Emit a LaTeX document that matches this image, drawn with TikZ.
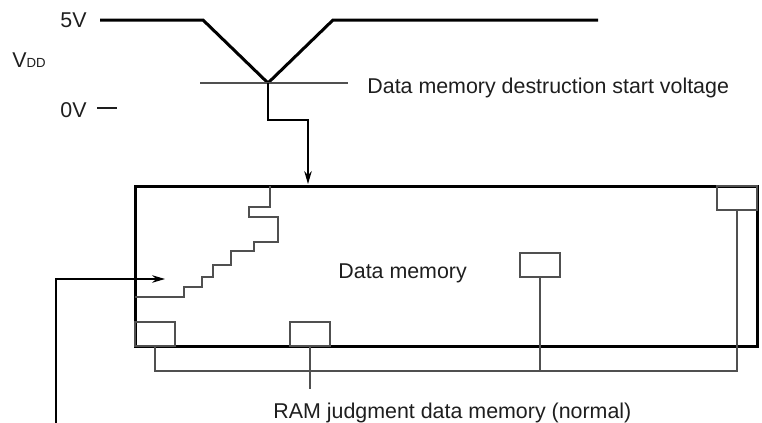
\documentclass[tikz,border=0pt]{standalone}
\usepackage{fontspec}
\setmainfont{Liberation Sans}
\usetikzlibrary{arrows.meta, positioning, calc}
\definecolor{wire}{RGB}{80,80,80}
\definecolor{ink}{RGB}{30,30,30}

\begin{document}
\begin{tikzpicture}[x=0.5pt, y=-0.5pt,
    lbl/.style={inner sep=0pt, anchor=base west, text=ink,
      font=\fontsize{10.7}{12}\selectfont},
    membox/.style={draw, line width=1.5pt, minimum width=311pt,
      minimum height=80pt, inner sep=0pt},
    cell/.style={draw=wire, line width=0.6pt, minimum width=20pt,
      minimum height=12pt, inner sep=0pt},
    volt/.style={line width=1.5pt, line join=miter},
    wireline/.style={wire, line width=0.6pt},
    arr/.style={-{Stealth[length=6.5pt, width=3.8pt]}, line width=0.6pt, black}]
  \useasboundingbox (0,0) rectangle (762,423);
  \node[lbl] (v5) at (60,27) {5V};
  \node[lbl] (vdd) at (12,68) {V{\fontsize{6.6}{8}\selectfont DD}};
  \node[lbl] (v0) at (60,117) {0V};
  \node[lbl] (thr) at (367,93) {Data memory destruction start voltage};
  \node[membox] (mem) at (446,266) {};
  \node[lbl] (dm) at (338,278) {Data memory};
  \node[lbl] (ram) at (273,418) {RAM judgment data memory (normal)};
  \node[cell] (b1) at (155,334) {};
  \node[cell] (b2) at (310,334) {};
  \node[cell] (b3) at (540,265) {};
  \node[cell] (b4) at (737,198) {};
  \coordinate (vbot) at (268,83);
  \coordinate (drop) at (308,184);
  \coordinate (feed) at (56,423);
  \coordinate (feedtip) at (165,279);
  \coordinate (bus) at (0,371);
  \coordinate (tail) at (0,389);
  \draw[volt] (100,20) -- (203,20) -- (vbot) -- (333,20) -- (598,20);
  \draw[line width=0.9pt, ink] (97,108) -- (117,108);
  \draw[wireline] (200,83) -- (348,83);
  \draw[arr] (vbot) -- ++(0,37) -| (drop);
  \draw[arr] (feed) |- (feedtip);
  \draw[wireline] (270,186) |- (249,207) |- (278,217) |- (254,242) |- (231,251)
    |- (213,265) |- (202,277) |- (184,287) |- (135,297);
  \draw[wireline] (b1.south) -- (b1.south |- bus) -- (b4.south |- bus) -- (b4.south);
  \draw[wireline] (b3.south) -- (b3.south |- bus);
  \draw[wireline] (b2.south) -- (b2.south |- tail);
\end{tikzpicture}
\end{document}
